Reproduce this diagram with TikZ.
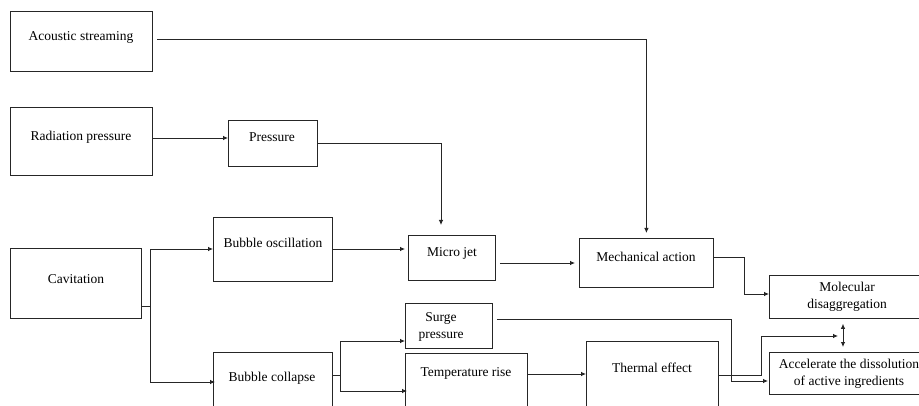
\documentclass[tikz,border=0pt]{standalone}
\usepackage{fontspec}
\setmainfont{Liberation Serif}
\usetikzlibrary{arrows.meta}
\begin{document}
\begin{tikzpicture}[x=1pt,y=-1pt,
  box/.style={draw=black!85,line width=0.8pt,anchor=north west,inner sep=0pt},
  lbl/.style={font=\fontsize{13.5}{17}\selectfont,align=center,inner sep=0pt},
  one/.style={lbl,text height=9.3pt,text depth=3pt},
  conn/.style={draw=black!85,line width=0.8pt,-{Latex[length=5pt,width=4.5pt]}},
  plain/.style={draw=black!85,line width=0.8pt},
  both/.style={draw=black!85,line width=0.8pt,{Latex[length=5pt,width=4.5pt]}-{Latex[length=5pt,width=4.5pt]}}]
\useasboundingbox (0,0) rectangle (919,406);
\clip (0,0) rectangle (919,406);
\fill[white] (0,0) rectangle (919,406);
% boxes
\node[box,minimum width=142pt,minimum height=60pt] (as) at (10,11) {};
\node[box,minimum width=142pt,minimum height=68pt] (rp) at (10,107) {};
\node[box,minimum width=89pt,minimum height=46pt] (pr) at (228,120) {};
\node[box,minimum width=131pt,minimum height=70pt] (cav) at (10,248) {};
\node[box,minimum width=119pt,minimum height=64pt] (bo) at (213,217) {};
\node[box,minimum width=87pt,minimum height=45pt] (mj) at (408,235) {};
\node[box,minimum width=134pt,minimum height=49pt] (ma) at (579,238) {};
\node[box,minimum width=161pt,minimum height=43pt] (md) at (769,275) {};
\node[box,minimum width=161pt,minimum height=42pt] (ac) at (769,352) {};
\node[box,minimum width=87pt,minimum height=45pt] (sp) at (405,303) {};
\node[box,minimum width=122pt,minimum height=67pt] (tr) at (405,353) {};
\node[box,minimum width=119pt,minimum height=68pt] (bc) at (213,352) {};
\node[box,minimum width=132pt,minimum height=79pt] (te) at (586,341) {};
% labels
\node[one] (asl) at (81,37) {Acoustic streaming};
\node[one] (rpl) at (81,137) {Radiation pressure};
\node[one] (prl) at (272,138) {Pressure};
\node[one] (cavl) at (76,280) {Cavitation};
\node[one] (bol) at (273,244) {Bubble oscillation};
\node[one] (mjl) at (452,253) {Micro jet};
\node[one] (mal) at (646,258) {Mechanical action};
\node[lbl] (mdl) at (847,297) {Molecular\\disaggregation};
\node[lbl] (acl) at (849,374) {Accelerate the dissolution\\of active ingredients};
\node[lbl] (spl) at (441,327) {Surge\\pressure};
\node[one] (trl) at (466,373) {Temperature rise};
\node[one] (bcl) at (272,378) {Bubble collapse};
\node[one] (tel) at (652,369) {Thermal effect};
% connectors
\coordinate (asout) at (157,39);
\draw[conn,shorten >=5pt] (asout) -| (ma.north);
\draw[conn] (rp.east |- 0,138) -- (pr.west |- 0,138);
\coordinate (mjin) at (441,225);
\draw[conn] (pr.east |- 0,143) -| (mjin);
\coordinate (cavj) at (150,306);
\draw[plain] (cav.east |- cavj) -- (cavj);
\draw[conn] (cavj) |- (bo.west |- 0,249);
\draw[conn] (cavj) |- ([xshift=2pt]bc.west |- 0,382);
\draw[conn,shorten >=3pt] (bo.east |- 0,249) -- (mj.west |- 0,249);
\coordinate (bcj) at (340,375);
\draw[plain] (bc.east |- bcj) -- (bcj);
\draw[conn] (bcj) |- (sp.west |- 0,341);
\draw[conn] (bcj) |- ([xshift=2pt]tr.west |- 0,391);
\draw[conn,shorten <=4pt,shorten >=4pt] (mj.east |- 0,263) -- (ma.west |- 0,263);
\draw[conn] (tr.east |- 0,374) -- (te.west |- 0,374);
\draw[conn] (ma.east |- 0,257) -- (744,257) |- (md.west |- 0,294);
\draw[conn,shorten <=4pt,shorten >=1pt] (sp.east |- 0,319) -- (731,319) |- (ac.west |- 0,381);
\coordinate (dbl) at (838,336);
\draw[conn] (te.east |- 0,375) -- (761,375) |- (dbl);
\draw[both,shorten <=5pt,shorten >=5pt] (md.south -| 843,0) -- (ac.north -| 843,0);
\end{tikzpicture}
\end{document}
